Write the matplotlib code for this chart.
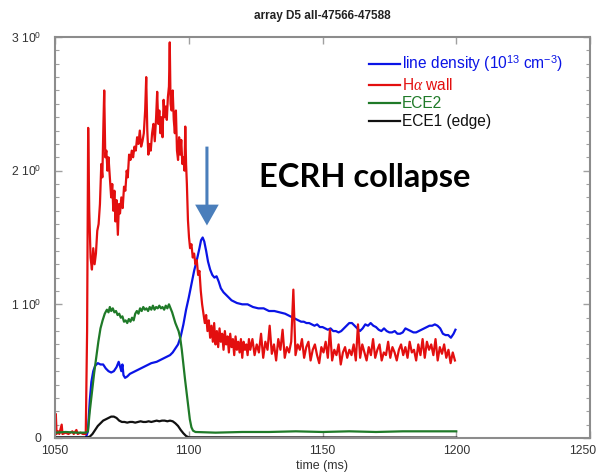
import matplotlib
matplotlib.use('Agg')
import matplotlib.pyplot as plt
import matplotlib.transforms as mtransforms
import numpy as np
from matplotlib.ticker import MultipleLocator, FixedLocator, FixedFormatter

plt.rcParams['font.family'] = ['Liberation Sans', 'DejaVu Sans']
plt.rcParams['mathtext.fontset'] = 'custom'
plt.rcParams['mathtext.rm'] = 'Liberation Sans'
plt.rcParams['mathtext.it'] = 'Liberation Serif:italic'

# Hα wall signal: dense part up to the collapse
halpha_t = [1050.0, 1050.3, 1050.6, 1051.2, 1051.6, 1052.5, 1052.8, 1054.0, 1055.0, 1056.5,
            1057.0, 1058.0, 1058.5, 1059.5, 1060.5, 1061.5, 1062.0, 1062.4, 1062.8, 1063.3,
            1063.8, 1064.3, 1064.8, 1065.3, 1065.8, 1066.3, 1066.8, 1067.3, 1067.7, 1068.1,
            1068.4, 1068.8, 1069.2, 1069.6, 1070.0, 1070.5, 1071.0, 1071.4, 1071.8, 1072.2,
            1072.6, 1073.0, 1073.5, 1073.9, 1074.3, 1074.8, 1075.3, 1075.8, 1076.3, 1076.8,
            1077.2, 1077.7, 1078.2, 1078.7, 1079.2, 1079.7, 1080.2, 1080.7, 1081.2, 1081.7,
            1082.2, 1082.7, 1083.2, 1083.7, 1084.1, 1084.5, 1084.9, 1085.3, 1085.8, 1086.3,
            1086.8, 1087.3, 1087.8, 1088.2, 1088.6, 1089.0, 1089.4, 1089.8, 1090.2, 1090.6,
            1091.0, 1091.4, 1091.8, 1092.2, 1092.6, 1092.9, 1093.2, 1093.6, 1094.0, 1094.4,
            1094.8, 1095.2, 1095.6, 1096.0, 1096.4, 1096.8, 1097.2, 1097.6, 1098.0, 1098.4,
            1098.7, 1099.0, 1099.3, 1099.7, 1100.1, 1100.5, 1101.0, 1101.5, 1102.0, 1102.5,
            1103.0, 1103.5, 1104.0, 1104.5, 1105.0, 1105.5, 1106.0, 1106.5, 1107.0, 1107.5,
            1108.0, 1108.5, 1109.0, 1109.5, 1110.0, 1110.5, 1111.0, 1111.5, 1112.0, 1112.5,
            1113.0, 1113.5, 1114.0, 1114.5, 1115.0, 1115.5, 1116.0, 1116.5, 1117.0, 1117.5,
            1118.0, 1118.5, 1119.0, 1119.5, 1120.0, 1120.5, 1121.0, 1121.5, 1122.0, 1122.5]
halpha_v = [0.03, 0.18, 0.03, 0.05, 0.03, 0.10, 0.03, 0.04, 0.03, 0.05,
            0.03, 0.06, 0.03, 0.04, 0.03, 0.03, 0.80, 2.32, 1.70, 1.35,
            1.26, 1.42, 1.30, 1.38, 1.55, 1.60, 1.75, 2.05, 1.95, 2.35,
            2.60, 2.10, 2.15, 2.00, 2.10, 1.95, 1.80, 1.90, 1.70, 1.85,
            1.62, 1.78, 1.52, 1.75, 1.68, 1.80, 1.72, 1.88, 1.85, 2.00,
            1.95, 2.12, 2.08, 2.15, 2.10, 2.18, 2.15, 2.25, 2.20, 2.30,
            2.18, 2.22, 2.28, 2.45, 2.70, 2.30, 2.12, 2.20, 2.15, 2.28,
            2.35, 2.22, 2.40, 2.59, 2.35, 2.45, 2.28, 2.40, 2.25, 2.53,
            2.40, 2.48, 2.38, 2.55, 2.63, 2.96, 2.50, 2.45, 2.60, 2.38,
            2.28, 2.45, 2.15, 2.08, 2.25, 2.12, 2.23, 2.05, 2.10, 2.00,
            2.33, 2.05, 1.90, 1.63, 1.50, 1.42, 1.45, 1.35, 1.38, 1.30,
            1.33, 1.22, 1.25, 1.10, 1.00, 0.93, 0.86, 0.92, 0.80, 0.88,
            0.75, 0.84, 0.72, 0.86, 0.70, 0.80, 0.68, 0.82, 0.72, 0.78,
            0.66, 0.80, 0.70, 0.76, 0.64, 0.78, 0.68, 0.74, 0.62, 0.76,
            0.66, 0.72, 0.64, 0.74, 0.60, 0.72, 0.66, 0.70, 0.62, 0.74]
# Hα wall signal after the collapse, evenly sampled 1123..1199.5 ms
halpha_tail = [0.66, 0.74, 0.62, 0.70, 0.64, 0.78, 0.60, 0.72, 0.66, 0.84,
               0.63, 0.70, 0.58, 0.74, 0.66, 0.81, 0.60, 0.68, 0.64, 0.72,
               1.11, 0.62, 0.70, 0.66, 0.74, 0.60, 0.68, 0.72, 0.58, 0.66,
               0.70, 0.62, 0.56, 0.68, 0.64, 0.72, 0.60, 0.81, 0.58, 0.66,
               0.62, 0.70, 0.55, 0.64, 0.68, 0.60, 0.66, 0.62, 0.70, 0.58,
               0.85, 0.60, 0.70, 0.64, 0.58, 0.68, 0.62, 0.74, 0.60, 0.66,
               0.70, 0.58, 0.64, 0.62, 0.72, 0.60, 0.68, 0.64, 0.58, 0.66,
               0.70, 0.62, 0.68, 0.60, 0.72, 0.64, 0.66, 0.58, 0.70, 0.62,
               0.74, 0.60, 0.72, 0.66, 0.70, 0.62, 0.74, 0.58, 0.68, 0.63,
               0.70, 0.60, 0.66, 0.56, 0.64, 0.58]

# line-integrated density (1e13 cm^-3)
density_t = [1050, 1061.5, 1062.3, 1063, 1063.6, 1064.3, 1065, 1066, 1067, 1068,
             1069, 1070, 1071, 1072, 1073, 1073.8, 1074.4, 1074.8, 1075.2, 1075.6,
             1076.2, 1077, 1078, 1079, 1080, 1082, 1084, 1086, 1088, 1090,
             1092, 1093, 1094, 1095, 1096, 1097, 1098, 1099, 1100, 1101,
             1102, 1103, 1104, 1104.6, 1105.2, 1105.8, 1106.5, 1107.2, 1108, 1108.8,
             1109.6, 1110.4, 1111.2, 1112, 1113, 1114, 1115, 1116, 1118, 1120,
             1122, 1124, 1126, 1128, 1130, 1132, 1134, 1136, 1137, 1138,
             1139, 1140, 1141, 1142, 1143, 1144, 1145, 1146, 1147, 1148,
             1149, 1150, 1151, 1152, 1153, 1154, 1155, 1156, 1157, 1158,
             1159, 1160, 1161, 1162, 1163, 1164, 1165, 1166, 1167, 1168,
             1169, 1170, 1171, 1172, 1173, 1174, 1175, 1176, 1177, 1178,
             1179, 1180, 1181, 1182, 1183, 1184, 1185, 1186, 1187, 1188,
             1189, 1190, 1191, 1192, 1193, 1194, 1195, 1196, 1197, 1198,
             1199, 1199.7]
density_v = [0.0, 0.0, 0.05, 0.28, 0.42, 0.50, 0.54, 0.56, 0.55, 0.55,
             0.52, 0.50, 0.49, 0.50, 0.53, 0.57, 0.53, 0.50, 0.55, 0.47,
             0.45, 0.46, 0.48, 0.49, 0.50, 0.52, 0.54, 0.56, 0.57, 0.59,
             0.61, 0.62, 0.64, 0.67, 0.70, 0.76, 0.85, 0.96, 1.05, 1.15,
             1.25, 1.33, 1.42, 1.48, 1.50, 1.47, 1.40, 1.32, 1.26, 1.22,
             1.20, 1.21, 1.17, 1.12, 1.09, 1.07, 1.05, 1.03, 1.01, 1.00,
             1.00, 0.98, 0.97, 0.97, 0.95, 0.95, 0.94, 0.93, 0.92, 0.91,
             0.90, 0.89, 0.88, 0.87, 0.87, 0.86, 0.86, 0.85, 0.84, 0.85,
             0.83, 0.83, 0.82, 0.81, 0.82, 0.80, 0.80, 0.79, 0.80, 0.82,
             0.84, 0.86, 0.86, 0.84, 0.82, 0.80, 0.82, 0.85, 0.84, 0.86,
             0.84, 0.83, 0.81, 0.80, 0.82, 0.80, 0.79, 0.79, 0.80, 0.78,
             0.78, 0.79, 0.82, 0.81, 0.80, 0.79, 0.79, 0.80, 0.81, 0.82,
             0.83, 0.84, 0.84, 0.85, 0.84, 0.82, 0.78, 0.77, 0.77, 0.75,
             0.78, 0.81]

# ECE2 channel
ece2_t = [1050, 1054, 1058, 1061.5, 1062.3, 1063, 1063.8, 1064.6, 1065.4, 1066.2,
          1067, 1067.8, 1068.6, 1069.4, 1070, 1070.5, 1071, 1071.6, 1072.2, 1072.8,
          1073.4, 1074, 1074.6, 1075.2, 1075.8, 1076.4, 1077, 1077.6, 1078.2, 1078.8,
          1079.4, 1080, 1080.6, 1081.2, 1081.8, 1082.4, 1083, 1083.6, 1084.2, 1084.8,
          1085.4, 1086, 1086.6, 1087.2, 1087.8, 1088.4, 1089, 1089.6, 1090.2, 1090.8,
          1091.4, 1092, 1092.6, 1093.2, 1093.8, 1094.4, 1095, 1095.6, 1096.2, 1096.8,
          1097.4, 1098, 1098.6, 1099.2, 1099.8, 1100.4, 1101, 1101.6, 1102.5, 1110,
          1120, 1130, 1140, 1150, 1160, 1170, 1180, 1190, 1200]
ece2_v = [0.04, 0.045, 0.04, 0.04, 0.05, 0.20, 0.34, 0.48, 0.60, 0.72,
          0.82, 0.88, 0.93, 0.96, 0.94, 0.98, 0.95, 0.97, 0.94, 0.95,
          0.92, 0.93, 0.90, 0.91, 0.87, 0.88, 0.86, 0.89, 0.87, 0.90,
          0.88, 0.93, 0.95, 0.93, 0.97, 0.95, 0.98, 0.96, 0.97, 0.95,
          0.98, 0.96, 0.99, 0.96, 0.98, 0.97, 0.99, 0.97, 0.98, 0.96,
          0.99, 0.97, 1.00, 0.97, 0.94, 0.90, 0.86, 0.83, 0.80, 0.75,
          0.66, 0.55, 0.44, 0.34, 0.24, 0.14, 0.08, 0.055, 0.045, 0.04,
          0.045, 0.045, 0.05, 0.045, 0.05, 0.045, 0.05, 0.05, 0.05]

# ECE1 (edge) channel
ece1_t = [1050, 1062, 1063, 1064, 1065, 1066, 1067, 1068, 1069, 1070,
          1071, 1072, 1073, 1074, 1075, 1076, 1077, 1078, 1079, 1080,
          1081, 1082, 1083, 1084, 1085, 1086, 1087, 1088, 1089, 1090,
          1091, 1092, 1093, 1094, 1095, 1096, 1097, 1098, 1099, 1100, 1200]
ece1_v = [0.005, 0.005, 0.01, 0.03, 0.06, 0.09, 0.11, 0.13, 0.14, 0.15,
          0.16, 0.16, 0.15, 0.13, 0.12, 0.12, 0.115, 0.12, 0.12, 0.115,
          0.12, 0.125, 0.12, 0.12, 0.125, 0.12, 0.125, 0.13, 0.125, 0.13,
          0.13, 0.125, 0.13, 0.125, 0.11, 0.09, 0.06, 0.035, 0.015, 0.005, 0.003]

x_ticks = [1050, 1100, 1150, 1200, 1250]
y_ticks = [0, 1, 2, 3]
y_tick_labels = ['0', r'1 10$^0$', r'2 10$^0$', r'3 10$^0$']

halpha_time = np.concatenate([halpha_t, np.linspace(1123, 1199.5, len(halpha_tail))])
halpha_vals = np.concatenate([halpha_v, halpha_tail])

fig = plt.figure(figsize=(6.02, 4.74), dpi=100)
ax = fig.add_axes([55 / 602, 1 - 438 / 474, 535 / 602, 401 / 474])

lw = 1.6
ax.plot(density_t, density_v, color='#0a14e6', lw=lw, label=r'line density (10$^{13}$ cm$^{-3}$)')
ax.plot(halpha_time, halpha_vals, color='#e30f0f', lw=lw, label=r'H$\alpha$ wall')
ax.plot(ece2_t, ece2_v, color='#1f7a28', lw=lw, label='ECE2')
ax.plot(ece1_t, ece1_v, color='#111111', lw=lw, label='ECE1 (edge)')

ax.set_xlim(1050, 1250)
ax.set_ylim(0, 3)
ax.xaxis.set_major_locator(FixedLocator(x_ticks))
ax.yaxis.set_major_locator(FixedLocator(y_ticks))
ax.yaxis.set_major_formatter(FixedFormatter(y_tick_labels))
ax.yaxis.set_minor_locator(MultipleLocator(0.1))

for s in ax.spines.values():
    s.set_color('#8c8c8c')
    s.set_linewidth(1.5)
ax.tick_params(axis='both', which='both', direction='in', color='#a0a0a0',
               top=True, right=True, labelsize=8.8, labelcolor='#333333')
ax.tick_params(axis='both', which='major', length=5, width=1)
ax.tick_params(axis='y', which='minor', length=3, width=0.8)
ax.tick_params(axis='y', which='major', pad=10)
ax.tick_params(axis='x', which='major', pad=5)

# keep the last x label inside the figure
last = ax.get_xticklabels()[-1]
last.set_transform(last.get_transform() +
                   mtransforms.ScaledTranslation(-7 / 100, 0, fig.dpi_scale_trans))

ax.set_title('array D5 all-47566-47588', fontsize=8.5, fontweight='bold',
             color='#222222', pad=13)
ax.set_xlabel('time (ms)', fontsize=9, color='#333333', labelpad=2)

leg = ax.legend(loc='upper left', bbox_to_anchor=(0.586, 0.96), frameon=False,
                fontsize=11.2, handlelength=2.0, handletextpad=0.15,
                labelspacing=0.2, borderpad=0, borderaxespad=0)
for line, text in zip(leg.get_lines(), leg.get_texts()):
    text.set_color(line.get_color())

# marker for the density peak at the ECRH collapse
ax.annotate('', xy=(1106.8, 1.59), xytext=(1106.8, 2.18),
            arrowprops=dict(facecolor='#4a7ebb', edgecolor='none', width=2.2,
                            headwidth=17, headlength=15, shrink=0))
ax.text(1126.3, 1.877, 'ECRH collapse', fontsize=23.5, fontweight='bold',
        family='Lato', ha='left', va='baseline', color='black')

fig.savefig('out.png', dpi=100)
